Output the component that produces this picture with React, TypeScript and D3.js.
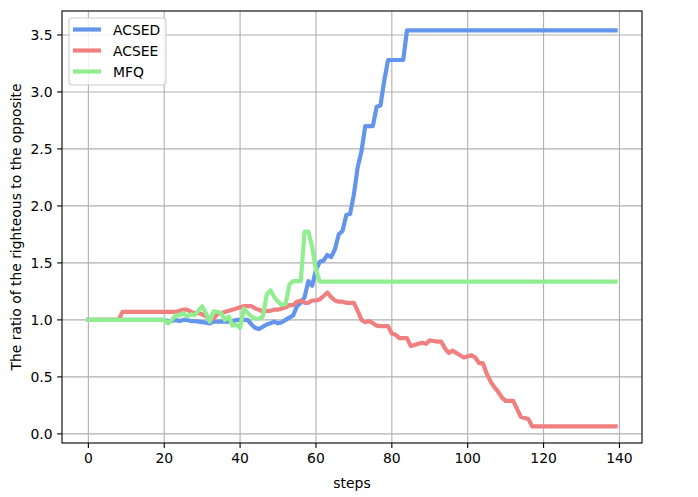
import React from "react";
import * as d3 from "d3";

const steps = d3.range(0, 140);

const acsed = [
  1.0, 1.0, 1.0, 1.0, 1.0, 1.0, 1.0, 1.0, 1.0, 1.0, 1.0, 1.0, 1.0, 1.0, 1.0, 1.0, 1.0, 1.0, 1.0, 1.0, 1.0,
  0.99, 0.99, 1.0, 0.99, 1.0, 1.0, 0.99, 0.99, 0.985, 0.98, 0.975, 0.97, 0.985, 0.985, 0.985, 0.985, 0.985, 0.99, 1.0,
  1.0, 1.0, 1.0, 0.96, 0.93, 0.92, 0.94, 0.96, 0.97, 0.985, 0.97, 0.98, 1.0, 1.02, 1.04, 1.12, 1.15, 1.2, 1.34, 1.3,
  1.44, 1.51, 1.52, 1.57, 1.55, 1.62, 1.75, 1.78, 1.92, 1.93, 2.1, 2.34, 2.48, 2.7, 2.7, 2.7, 2.87, 2.88, 3.1, 3.28,
  3.28, 3.28, 3.28, 3.28, 3.54, 3.54, 3.54, 3.54, 3.54, 3.54, 3.54, 3.54, 3.54, 3.54, 3.54, 3.54, 3.54, 3.54, 3.54, 3.54,
  3.54, 3.54, 3.54, 3.54, 3.54, 3.54, 3.54, 3.54, 3.54, 3.54, 3.54, 3.54, 3.54, 3.54, 3.54, 3.54, 3.54, 3.54, 3.54, 3.54,
  3.54, 3.54, 3.54, 3.54, 3.54, 3.54, 3.54, 3.54, 3.54, 3.54, 3.54, 3.54, 3.54, 3.54, 3.54, 3.54, 3.54, 3.54, 3.54, 3.54,
];

const acsee = [
  1.0, 1.0, 1.0, 1.0, 1.0, 1.0, 1.0, 1.0, 1.0, 1.07, 1.07, 1.07, 1.07, 1.07, 1.07, 1.07, 1.07, 1.07, 1.07, 1.07,
  1.07, 1.07, 1.07, 1.07, 1.08, 1.09, 1.09, 1.07, 1.06, 1.06, 1.05, 1.03, 1.02, 1.01, 1.05, 1.06, 1.07, 1.08, 1.09, 1.1,
  1.11, 1.12, 1.12, 1.12, 1.1, 1.09, 1.07, 1.08, 1.08, 1.09, 1.09, 1.1, 1.11, 1.13, 1.13, 1.16, 1.17, 1.15, 1.15, 1.17,
  1.17, 1.18, 1.21, 1.24, 1.2, 1.17, 1.16, 1.16, 1.15, 1.15, 1.15, 1.08, 1.0, 0.98, 0.99, 0.97, 0.95, 0.945, 0.945, 0.945,
  0.88, 0.87, 0.84, 0.84, 0.84, 0.77, 0.78, 0.79, 0.8, 0.79, 0.82, 0.815, 0.81, 0.81, 0.75, 0.71, 0.73, 0.71, 0.69, 0.67,
  0.68, 0.69, 0.67, 0.62, 0.62, 0.53, 0.46, 0.41, 0.37, 0.32, 0.29, 0.29, 0.29, 0.22, 0.15, 0.14, 0.13, 0.065, 0.065, 0.065,
  0.065, 0.065, 0.065, 0.065, 0.065, 0.065, 0.065, 0.065, 0.065, 0.065, 0.065, 0.065, 0.065, 0.065, 0.065, 0.065, 0.065, 0.065, 0.065, 0.065,
];

const mfq = [
  1.0, 1.0, 1.0, 1.0, 1.0, 1.0, 1.0, 1.0, 1.0, 1.0, 1.0, 1.0, 1.0, 1.0, 1.0, 1.0, 1.0, 1.0, 1.0, 1.0, 1.0,
  0.97, 1.0, 1.04, 1.04, 1.06, 1.03, 1.05, 1.04, 1.08, 1.12, 1.06, 0.985, 1.075, 1.07, 1.06, 1.0, 1.03, 0.95, 0.96,
  0.93, 1.1, 1.06, 1.03, 1.01, 1.01, 1.03, 1.22, 1.26, 1.2, 1.16, 1.13, 1.14, 1.31, 1.34, 1.34, 1.34, 1.775, 1.775, 1.64,
  1.44, 1.335, 1.335, 1.335, 1.335, 1.335, 1.335, 1.335, 1.335, 1.335, 1.335, 1.335, 1.335, 1.335, 1.335, 1.335, 1.335, 1.335, 1.335, 1.335,
  1.335, 1.335, 1.335, 1.335, 1.335, 1.335, 1.335, 1.335, 1.335, 1.335, 1.335, 1.335, 1.335, 1.335, 1.335, 1.335, 1.335, 1.335, 1.335, 1.335,
  1.335, 1.335, 1.335, 1.335, 1.335, 1.335, 1.335, 1.335, 1.335, 1.335, 1.335, 1.335, 1.335, 1.335, 1.335, 1.335, 1.335, 1.335, 1.335, 1.335,
  1.335, 1.335, 1.335, 1.335, 1.335, 1.335, 1.335, 1.335, 1.335, 1.335, 1.335, 1.335, 1.335, 1.335, 1.335, 1.335, 1.335, 1.335, 1.335, 1.335,
];

const seriesNames = ["ACSED", "ACSEE", "MFQ"];
const seriesColors = ["#6495ED", "#F08080", "#90EE90"];
const xTicks = [0, 20, 40, 60, 80, 100, 120, 140];
const yTicks = [0, 0.5, 1.0, 1.5, 2.0, 2.5, 3.0, 3.5];

const W = 698;
const H = 497;
const left = 62;
const right = 642;
const top = 11;
const bottom = 443;
const font = "DejaVu Sans, sans-serif";

export default function App() {
  const x = d3.scaleLinear().domain([-6.95, 145.95]).range([left, right]);
  const y = d3.scaleLinear().domain([-0.08, 3.71]).range([bottom, top]);

  const allSeries = [acsed, acsee, mfq];
  const line = d3
    .line<number>()
    .x((_, i) => x(steps[i]))
    .y((d) => y(d));

  return (
    <svg
      width={W}
      height={H}
      style={{ position: "absolute", left: 0, top: 0, background: "#fff" }}
      fontFamily={font}
    >
      <rect x={0} y={0} width={W} height={H} fill="#fff" />
      <defs>
        <clipPath id="plot-clip">
          <rect x={left} y={top} width={right - left} height={bottom - top} />
        </clipPath>
      </defs>

      {/* grid */}
      {xTicks.map((t) => (
        <line key={`gx-${t}`} x1={x(t)} x2={x(t)} y1={top} y2={bottom} stroke="#b0b0b0" strokeWidth={1.1} />
      ))}
      {yTicks.map((t) => (
        <line key={`gy-${t}`} x1={left} x2={right} y1={y(t)} y2={y(t)} stroke="#b0b0b0" strokeWidth={1.1} />
      ))}

      {/* lines */}
      <g clipPath="url(#plot-clip)">
        {allSeries.map((s, i) => (
          <path
            key={seriesNames[i]}
            d={line(s) || undefined}
            fill="none"
            stroke={seriesColors[i]}
            strokeWidth={4.2}
            strokeLinejoin="round"
            strokeLinecap="square"
          />
        ))}
      </g>

      {/* frame */}
      <rect x={left} y={top} width={right - left} height={bottom - top} fill="none" stroke="#000" strokeWidth={1.1} />

      {/* x ticks */}
      {xTicks.map((t) => (
        <g key={`xt-${t}`}>
          <line x1={x(t)} x2={x(t)} y1={bottom} y2={bottom + 4.9} stroke="#000" strokeWidth={1.1} />
          <text x={x(t)} y={bottom + 20} textAnchor="middle" fontSize={13.9} fill="#000">
            {t}
          </text>
        </g>
      ))}
      {/* y ticks */}
      {yTicks.map((t) => (
        <g key={`yt-${t}`}>
          <line x1={left - 4.9} x2={left} y1={y(t)} y2={y(t)} stroke="#000" strokeWidth={1.1} />
          <text x={left - 9.5} y={y(t) + 5} textAnchor="end" fontSize={13.9} fill="#000">
            {t.toFixed(1)}
          </text>
        </g>
      ))}

      <text x={(left + right) / 2} y={488} textAnchor="middle" fontSize={13.9} fill="#000">
        steps
      </text>
      <text
        transform={`translate(21, ${(top + bottom) / 2}) rotate(-90)`}
        textAnchor="middle"
        fontSize={13.9}
        fill="#000"
      >
        The ratio of the righteous to the opposite
      </text>

      {/* legend */}
      <g>
        <rect x={69} y={18} width={97} height={67} rx={3} fill="#fff" fillOpacity={0.8} stroke="#cccccc" strokeWidth={1.1} />
        {seriesNames.map((n, i) => (
          <g key={`lg-${n}`} transform={`translate(0, ${29.5 + i * 21})`}>
            <line x1={73} x2={101} y1={0} y2={0} stroke={seriesColors[i]} strokeWidth={4.2} />
            <text x={113} y={5} fontSize={13.9} fill="#000">
              {n}
            </text>
          </g>
        ))}
      </g>
    </svg>
  );
}
